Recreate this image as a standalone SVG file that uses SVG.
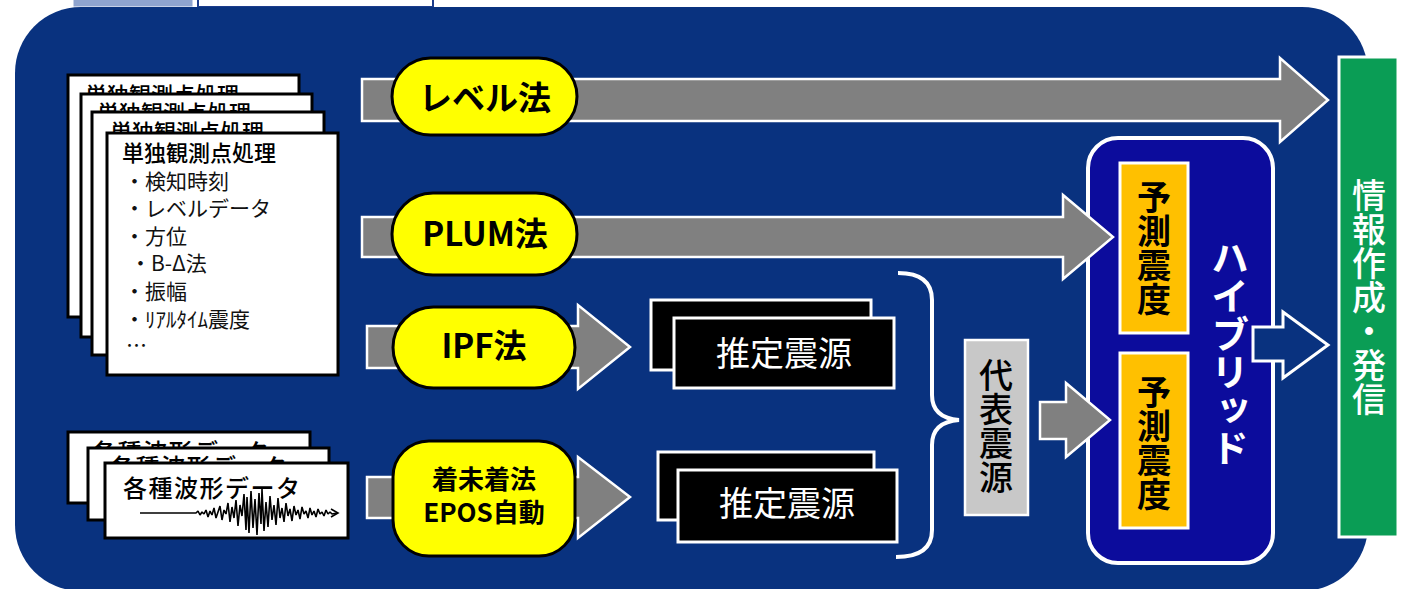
<svg xmlns="http://www.w3.org/2000/svg" width="1408" height="589" viewBox="0 0 1408 589">
<defs>
<style>
.jp{font-family:"Noto Sans CJK JP","Noto Sans CJK SC",sans-serif;}
.paper{fill:#ffffff;stroke:#000000;stroke-width:3;}
.doc{font-size:21px;fill:#111111;}
.title{font-size:22px;font-weight:500;fill:#000000;}
.wave{font-size:24px;font-weight:500;letter-spacing:1.5px;fill:#000000;}
.pill{fill:#ffff00;stroke:#000000;stroke-width:3;}
.pilltxt{font-size:33px;font-weight:bold;fill:#000000;text-anchor:middle;}
.garrow{fill:#808080;stroke:#ffffff;stroke-width:2.5;stroke-linejoin:miter;}
.est{fill:#000000;stroke:#ffffff;stroke-width:3;}
.esttxt{font-size:34px;fill:#ffffff;text-anchor:middle;}
.vert{writing-mode:vertical-rl;text-orientation:upright;text-anchor:middle;}
.orange{fill:#ffc000;stroke:#ffffff;stroke-width:3;}
</style>
</defs>

<rect width="1408" height="589" fill="#ffffff"/>

<g id="top-strip">
<rect x="73" y="-4" width="120" height="11" fill="#8fa4cf" stroke="#ffffff" stroke-width="1"/>
<rect x="198" y="-4" width="235" height="11" fill="#ffffff" stroke="#1c3c8c" stroke-width="2"/>
</g>

<g id="panel">
<rect x="15" y="7" width="1353" height="584" rx="66" fill="#09327f"/>
</g>

<g id="station-docs" class="jp">
<rect class="paper" x="68" y="75" width="231" height="242"/>
<text class="title" x="85" y="103">単独観測点処理</text>
<rect class="paper" x="81" y="94" width="231" height="243"/>
<text class="title" x="97" y="121">単独観測点処理</text>
<rect class="paper" x="92" y="112" width="232" height="243"/>
<text class="title" x="110" y="140">単独観測点処理</text>
<rect class="paper" x="107" y="133" width="231" height="242"/>
<text class="title" x="122" y="161">単独観測点処理</text>
<text class="doc" x="124" y="189">・検知時刻</text>
<text class="doc" x="124" y="216">・レベルデータ</text>
<text class="doc" x="124" y="244">・方位</text>
<text class="doc" x="130" y="271">・B-Δ法</text>
<text class="doc" x="124" y="299">・振幅</text>
<text class="doc" x="124" y="327">・ﾘｱﾙﾀｲﾑ震度</text>
<text class="doc" x="126" y="353">…</text>
</g>

<g id="waveform-docs" class="jp">
<rect class="paper" x="68" y="432" width="242" height="71"/>
<text class="wave" x="92" y="461">各種波形データ</text>
<rect class="paper" x="88" y="448" width="241" height="72"/>
<text class="wave" x="110" y="476">各種波形データ</text>
<rect class="paper" x="105" y="463" width="243" height="75"/>
<text class="wave" x="123" y="497">各種波形データ</text>
<path d="M140 513 L196 513 L198 511 L200 515 L202 512 L204 514 L206 510 L208 517 L210 511 L212 515 L214 508 L216 518 L218 512 L220 506 L222 520 L224 510 L226 514 L228 503 L230 522 L232 507 L234 518 L236 500 L238 526 L240 505 L242 516 L244 494 L246 530 L247 497 L249 533 L251 491 L253 528 L255 499 L257 535 L259 493 L261 524 L262 489 L264 531 L266 502 L268 527 L270 496 L272 520 L274 505 L276 525 L278 498 L280 518 L282 508 L284 522 L286 503 L288 516 L290 509 L292 521 L294 506 L296 515 L298 510 L300 519 L302 507 L304 514 L306 511 L308 518 L310 508 L312 515 L314 511 L316 517 L318 509 L320 514 L322 512 L324 516 L326 510 L328 514 L330 512 L332 514 L337 513" fill="none" stroke="#000" stroke-width="1.6" stroke-linejoin="bevel"/>
<path d="M331 509 L338 513 L331 517" fill="none" stroke="#000" stroke-width="1.6"/>
</g>

<g id="hybrid" class="jp">
<rect x="1088" y="138" width="185" height="425" rx="30" fill="#0c0c9c" stroke="#ffffff" stroke-width="4"/>
<text class="vert" x="1230" y="353" font-size="38" font-weight="bold" fill="#ffffff">ハイブリッド</text>
</g>

<g id="predicted-intensity-1" class="jp">
<rect class="orange" x="1120" y="163" width="68" height="170"/>
<text class="vert" x="1154" y="248" font-size="34" font-weight="bold" fill="#000">予測震度</text>
</g>

<g id="predicted-intensity-2" class="jp">
<rect class="orange" x="1120" y="353" width="68" height="175"/>
<text class="vert" x="1154" y="443" font-size="34" font-weight="bold" fill="#000">予測震度</text>
</g>

<g id="estimated-source-1" class="jp">
<rect class="est" x="651" y="300" width="220" height="70"/>
<rect class="est" x="674" y="318" width="220" height="70"/>
<text class="esttxt" x="784" y="366">推定震源</text>
</g>

<g id="estimated-source-2" class="jp">
<rect class="est" x="658" y="452" width="216" height="68"/>
<rect class="est" x="678" y="470" width="219" height="72"/>
<text class="esttxt" x="787" y="516">推定震源</text>
</g>

<g id="representative-source" class="jp">
<rect x="965" y="340" width="63" height="175" fill="#c8c8c8" stroke="#ffffff" stroke-width="2.5"/>
<text class="vert" x="996" y="426" font-size="34" font-weight="500" fill="#000">代表震源</text>
</g>

<g id="information-output" class="jp">
<rect x="1339" y="57" width="59" height="480" fill="#0a9d55" stroke="#ffffff" stroke-width="3"/>
<text class="vert" x="1369" y="297" font-size="34" font-weight="500" fill="#ffffff">情報作成・発信</text>
</g>

<g id="connectors">
<path class="garrow" d="M362 79 H1280 V58 L1328 100 L1280 142 V121 H362 Z"/>
<path class="garrow" d="M362 217 H1063 V195 L1113 237 L1063 279 V257 H362 Z"/>
<path class="garrow" d="M367 326 H578 V305 L630 347 L578 389 V368 H367 Z"/>
<path class="garrow" d="M367 477 H578 V457 L630 497 L578 538 V518 H367 Z"/>
<path class="garrow" d="M1040 402 H1066 V383 L1110 420 L1066 457 V439 H1040 Z"/>
<path d="M1253 327 H1283 V312 L1328 345 L1283 378 V361 H1253 Z" fill="#09327f" stroke="#ffffff" stroke-width="3"/>
<path d="M898 273 Q932 273 932 300 V395 Q932 418 959 420 Q932 422 932 445 V530 Q932 557 896 557" fill="none" stroke="#ffffff" stroke-width="4"/>
</g>

<g id="level-method" class="jp">
<rect class="pill" x="392" y="58" width="185" height="77" rx="38.5"/>
<text class="pilltxt" x="485" y="110">レベル法</text>
</g>

<g id="plum-method" class="jp">
<rect class="pill" x="392" y="193" width="185" height="82" rx="41"/>
<text class="pilltxt" x="485" y="246">PLUM法</text>
</g>

<g id="ipf-method" class="jp">
<rect class="pill" x="393" y="307" width="182" height="81" rx="40.5"/>
<text class="pilltxt" x="484" y="358">IPF法</text>
</g>

<g id="epos-method" class="jp">
<rect class="pill" x="393" y="441" width="182" height="115" rx="36"/>
<text x="484" y="489" font-size="26" font-weight="bold" text-anchor="middle" fill="#000">着未着法</text>
<text x="484" y="522" font-size="26" font-weight="bold" text-anchor="middle" fill="#000">EPOS自動</text>
</g>
</svg>
